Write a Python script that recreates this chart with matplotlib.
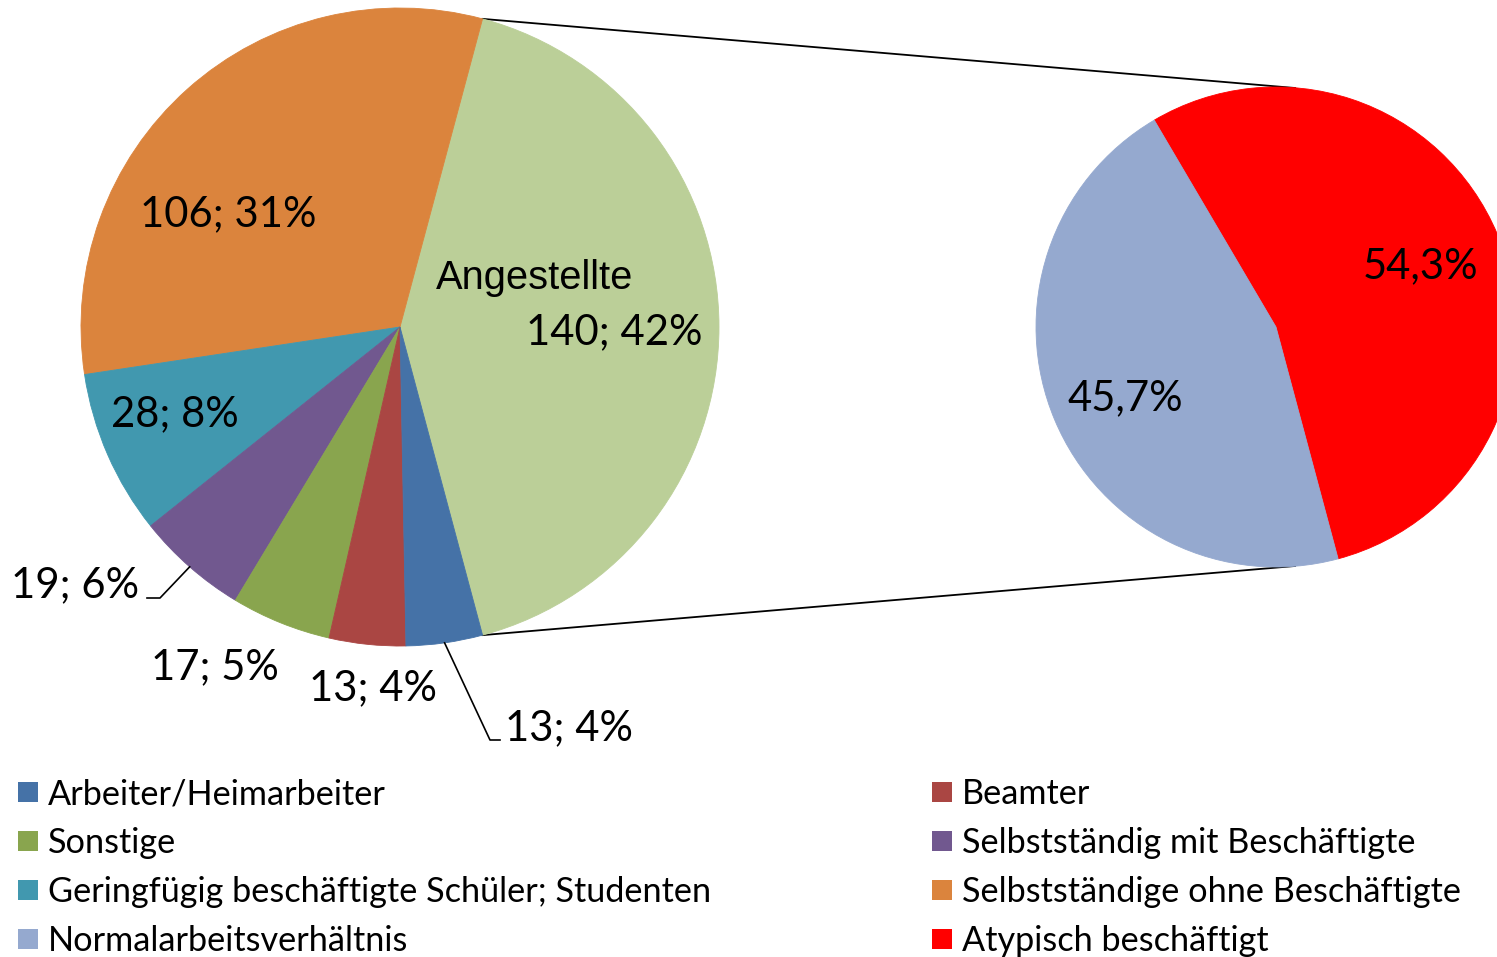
import matplotlib
matplotlib.use("Agg")
import matplotlib.pyplot as plt
from matplotlib.patches import Rectangle
import numpy as np

# ---------------- data ----------------
categories = ["Angestellte", "Selbstständige ohne Beschäftigte",
              "Geringfügig beschäftigte Schüler; Studenten",
              "Selbstständig mit Beschäftigte", "Sonstige", "Beamter",
              "Arbeiter/Heimarbeiter"]
counts = [140, 106, 28, 19, 17, 13, 13]
pct_labels = ["42%", "31%", "8%", "6%", "5%", "4%", "4%"]
colors = ["#BBCF98", "#DB843D", "#4198AF", "#71588F", "#89A54E", "#AA4643", "#4572A7"]

sub_categories = ["Atypisch beschäftigt", "Normalarbeitsverhältnis"]
sub_values = [54.3, 45.7]
sub_labels = ["54,3%", "45,7%"]
sub_colors = ["#FF0000", "#95A9CF"]

legend_order = ["Arbeiter/Heimarbeiter", "Beamter", "Sonstige",
                "Selbstständig mit Beschäftigte",
                "Geringfügig beschäftigte Schüler; Studenten",
                "Selbstständige ohne Beschäftigte",
                "Normalarbeitsverhältnis", "Atypisch beschäftigt"]

# ---------------- layout ----------------
W, H = 1497, 957
fig = plt.figure(figsize=(W / 100, H / 100), dpi=100)
ax = fig.add_axes([0, 0, 1, 1])

def Y(y):
    return H - y

CALIBRI = ["Lato", "DejaVu Sans"]
ARIAL = ["Liberation Sans", "DejaVu Sans"]

c1 = (400, Y(327)); r1 = 319
c2 = (1276, Y(327)); r2 = 240
start = -75

wedges, _ = ax.pie(counts, colors=colors, startangle=start, counterclock=True,
                   center=c1, radius=r1, frame=True,
                   wedgeprops=dict(linewidth=0.6))
wedges2, _ = ax.pie(sub_values, colors=sub_colors, startangle=start, counterclock=True,
                    center=c2, radius=r2, frame=True,
                    wedgeprops=dict(linewidth=0.6))
for w in list(wedges) + list(wedges2):
    w.set_edgecolor(w.get_facecolor())
ax.set_xlim(0, W)
ax.set_ylim(0, H)
ax.set_aspect("auto")
ax.axis("off")

# connector lines from the Angestellte wedge edges to the second pie
t1, t2 = np.deg2rad(wedges[0].theta1), np.deg2rad(wedges[0].theta2)
p_top = (c1[0] + r1 * np.cos(t2), c1[1] + r1 * np.sin(t2))
p_bot = (c1[0] + r1 * np.cos(t1), c1[1] + r1 * np.sin(t1))
ax.plot([p_top[0], 1295], [p_top[1], Y(88)], color="black", lw=1.3, zorder=0.5)
ax.plot([p_bot[0], 1295], [p_bot[1], Y(566)], color="black", lw=1.3, zorder=0.5)

fig.canvas.draw()
renderer = fig.canvas.get_renderer()

def fit_size(text, family, target_w):
    t = fig.text(0, 0, text, fontsize=20, family=family)
    w = t.get_window_extent(renderer).width
    t.remove()
    return 20 * target_w / w

fs_lab = fit_size("106; 31%", CALIBRI, 176)
fs_leg = fit_size("Arbeiter/Heimarbeiter", CALIBRI, 340)
fs_ang = fit_size("Angestellte", ARIAL, 197)

dy = 2  # small vertical offset of text baseline

# data labels (positions in pixels)
lab_pos = [(614, 330), (228, 212), (175, 412), (75, 583), (215, 665), (373, 686), (569, 726)]
for i, (cnt, pl) in enumerate(zip(counts, pct_labels)):
    x, y = lab_pos[i]
    ax.text(x, Y(y + dy), f"{cnt}; {pl}", fontsize=fs_lab, family=CALIBRI,
            ha="center", va="center", color="black")
ax.text(535, Y(278), categories[0], fontsize=fs_ang, family=ARIAL,
        ha="center", va="center", color="black")

# leader lines
def edge_mid(w):
    a = np.deg2rad((w.theta1 + w.theta2) / 2)
    return (c1[0] + r1 * np.cos(a), c1[1] + r1 * np.sin(a))

m = edge_mid(wedges[3])
ax.plot([147, 160, m[0]], [Y(598), Y(598), m[1]], color="black", lw=1.2)
m = edge_mid(wedges[6])
ax.plot([m[0], 490, 500], [m[1], Y(740), Y(740)], color="black", lw=1.2)

sub_pos = [(1421, 264), (1125, 396)]
for (x, y), s in zip(sub_pos, sub_labels):
    ax.text(x, Y(y + dy), s, fontsize=fs_lab, family=CALIBRI, ha="center", va="center")

# legend
color_map = dict(zip(categories, colors))
color_map.update(dict(zip(sub_categories, sub_colors)))
col_x = [18, 932]
row_y = [792, 841, 890, 939]
for k, name in enumerate(legend_order):
    cx = col_x[k % 2]
    cy = row_y[k // 2]
    ax.add_patch(Rectangle((cx, Y(cy) - 10), 20, 20, facecolor=color_map[name],
                           edgecolor="none", clip_on=False))
    ax.text(cx + 30, Y(cy + dy), name, fontsize=fs_leg, family=CALIBRI,
            ha="left", va="center", color="black")

fig.savefig("out.png", dpi=100, facecolor="white")
